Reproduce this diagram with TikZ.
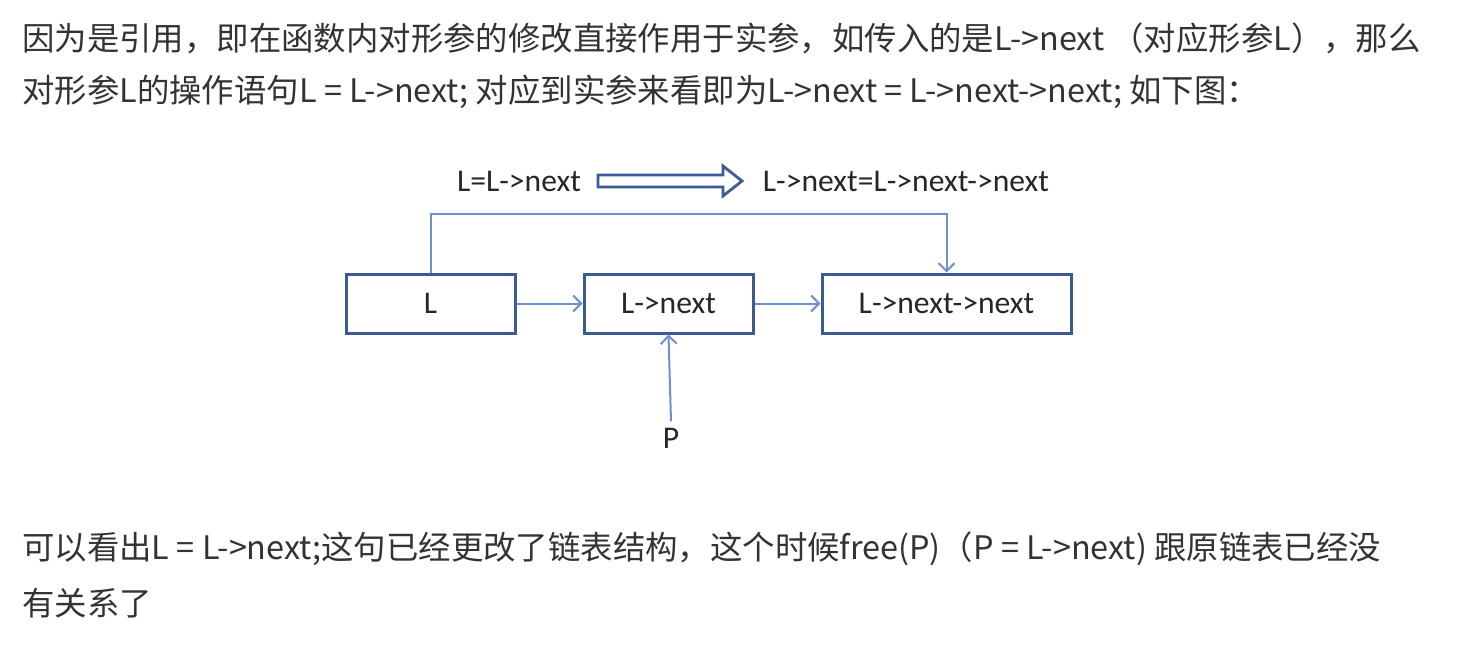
\documentclass[tikz,border=0pt]{standalone}
\usepackage{fontspec}
\setmainfont{Noto Sans CJK SC}
\newfontfamily\diagfont{Carlito}
\usetikzlibrary{arrows.meta}
\definecolor{boxblue}{HTML}{3D5A94}
\definecolor{linkblue}{HTML}{6F8FCF}
\definecolor{bodygray}{HTML}{333333}

\begin{document}
\begin{tikzpicture}[x=0.5pt, y=-0.5pt,
    para/.style={anchor=west, inner sep=0pt, text=bodygray, font=\fontsize{16.2}{19}\selectfont},
    lbl/.style={inner sep=0pt, text=black!85, font=\diagfont\fontsize{15.8}{18}\selectfont},
    cell/.style={draw=boxblue, line width=1.5pt, minimum height=29.5pt, inner sep=0pt,
                 text=black!85, font=\diagfont\fontsize{15.8}{18}\selectfont},
    link/.style={draw=linkblue, line width=1pt, -{Straight Barb[length=4pt, width=8pt]}}]
  \useasboundingbox (0,0) rectangle (1468,648);

  % text above the picture
  \node[para] (line1) at (22,38) {因为是引用，即在函数内对形参的修改直接作用于实参，如传入的是L->next （对应形参L），那么};
  \node[para] (line2) at (22,92) {对形参L的操作语句L = L->next; 对应到实参来看即为L->next = L->next->next; 如下图：};

  % heading of the picture
  \node[lbl] (lhsText) at (519,181) {L=L->next};
  \node[lbl] (rhsText) at (906,181) {L->next=L->next->next};
  \draw[boxblue, line width=1.4pt, fill=white]
    (598,175) -- (723,175) -- (723,166) -- (742,181) -- (723,196) -- (723,187) -- (598,187) -- cycle;

  % the list
  \node[cell, minimum width=84.5pt]  (boxL)  at (430.5,303.5) {L};
  \node[cell, minimum width=84.5pt]  (boxN)  at (668.5,303.5) {L->next};
  \node[cell, minimum width=124.5pt] (boxNN) at (946.5,303.5) {L->next->next};
  \node[lbl] (textP) at (671,438) {P};

  \draw[link] (boxL) -- (boxN);
  \draw[link] (boxN) -- (boxNN);
  \draw[link] (boxL.north) -- ++(0,-59) -| (boxNN.north);
  \draw[link] (textP.north) ++(0,-6) -- (boxN.south);

  % text below the picture
  \node[para] (line3) at (22,549) {可以看出L = L->next;这句已经更改了链表结构，这个时候free(P)（P = L->next) 跟原链表已经没};
  \node[para] (line4) at (22,603) {有关系了};
\end{tikzpicture}
\end{document}
